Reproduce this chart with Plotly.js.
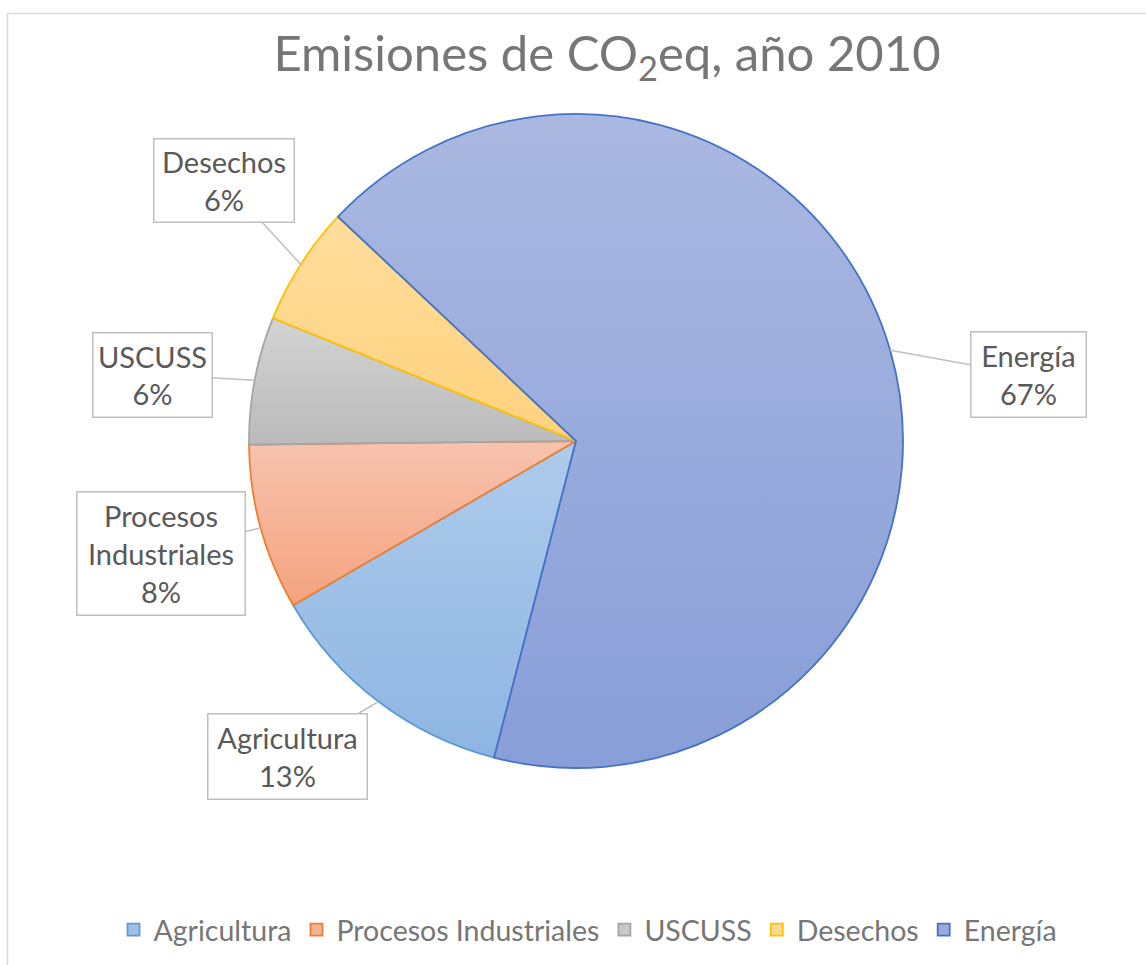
<!DOCTYPE html>
<html>
<head>
<meta charset="utf-8">
<script src="https://cdn.plot.ly/plotly-3.0.1.min.js"></script>
<style>html,body{margin:0;padding:0;background:#fff;}#chart{width:1146px;height:965px;}</style>
</head>
<body>
<div id="chart"></div>
<script>
// ---- data ----
const categories = ["Agricultura", "Procesos Industriales", "USCUSS", "Desechos", "Energía"];
const values = [12.6, 8.2, 6.3, 5.9, 67.0];
const labelText = ["Agricultura", "Procesos<br>Industriales", "USCUSS", "Desechos", "Energía"];

// ---- styles ----
const fillColors = ["#9EC0E6", "#F5B294", "#C8C8C8", "#FFD98F", "#99AADC"];
const lineColors = ["#5B9BD5", "#ED7D31", "#A5A5A5", "#FFC000", "#4472C4"];
const gradTop = ["#AECBEB", "#F7C3AE", "#D3D3D3", "#FFDD9C", "#AAB8E1"];
const gradBot = ["#8EB5E2", "#F4A37F", "#BBBBBB", "#FFD27E", "#889ED8"];

const W = 1146, H = 965;
const cx = 576, cy = 441, R = 327;
const rotation = 194.5;
// label box centers & sizes (px)
const boxes = [
  {x: 287, y: 756, w: 158, h: 84},
  {x: 160.5, y: 553, w: 167, h: 122},
  {x: 152, y: 374.5, w: 118, h: 83},
  {x: 223.5, y: 180, w: 139, h: 82},
  {x: 1028, y: 375, w: 114, h: 84}
];

const total = values.reduce((a, b) => a + b, 0);
let acc = 0;
const annotations = [];
values.forEach((v, i) => {
  const mid = (rotation + (acc + v / 2) / total * 360) * Math.PI / 180;
  acc += v;
  const px = cx + R * Math.sin(mid);
  const py = cy - R * Math.cos(mid);
  const b = boxes[i];
  annotations.push({
    xref: "paper", yref: "paper",
    x: px / W, y: 1 - py / H,
    axref: "pixel", ayref: "pixel",
    ax: b.x - px, ay: b.y - py,
    showarrow: true, arrowhead: 0, arrowwidth: 1.5, arrowcolor: "#BFBFBF",
    standoff: 0, startstandoff: 0,
    text: labelText[i] + "<br>" + Math.round(v / total * 100) + "%",
    font: {family: "Lato, 'Open Sans', sans-serif", size: 29, color: "#595959"},
    bgcolor: "#FFFFFF", bordercolor: "#BFBFBF", borderwidth: 1.5, borderpad: 0,
    width: b.w, height: b.h, align: "center", valign: "middle"
  });
});

const trace = {
  type: "pie",
  labels: categories,
  values: values,
  sort: false,
  direction: "clockwise",
  rotation: rotation,
  textinfo: "none",
  hoverinfo: "skip",
  marker: {colors: fillColors, line: {color: lineColors, width: 1.8}},
  domain: {x: [(cx - R) / W, (cx + R) / W], y: [1 - (cy + R) / H, 1 - (cy - R) / H]}
};

const layout = {
  width: W, height: H,
  margin: {l: 0, r: 0, t: 0, b: 0},
  paper_bgcolor: "#FFFFFF",
  showlegend: true,
  title: {
    text: "Emisiones de CO<sub>2</sub>eq, año 2010",
    font: {family: "Lato, 'Open Sans', sans-serif", size: 49, color: "#767676"},
    x: 607 / W, xanchor: "center", xref: "paper",
    y: 1 - 54 / H, yanchor: "middle", yref: "container"
  },
  legend: {
    orientation: "h", x: 588 / W, xanchor: "center", y: 1 - 930 / H, yanchor: "middle",
    font: {family: "Lato, 'Open Sans', sans-serif", size: 28.5, color: "#767676"},
    itemclick: false, traceorder: "normal"
  },
  annotations: annotations,
  shapes: [{type: "rect", xref: "paper", yref: "paper", x0: 7.5 / W, x1: 1.01, y0: -0.01, y1: 1 - 13.5 / H,
            line: {color: "#D9D9D9", width: 1.5}, fillcolor: "rgba(0,0,0,0)", layer: "below"}]
};

Plotly.newPlot("chart", [trace], layout, {staticPlot: true, displayModeBar: false}).then(gd => {
  const svg = gd.querySelector("svg.main-svg");
  if (!svg) return;
  const NS = "http://www.w3.org/2000/svg";
  let defs = svg.querySelector("defs");
  if (!defs) { defs = document.createElementNS(NS, "defs"); svg.insertBefore(defs, svg.firstChild); }
  gradTop.forEach((c, i) => {
    const g = document.createElementNS(NS, "linearGradient");
    g.setAttribute("id", "sliceGrad" + i);
    g.setAttribute("x1", "0"); g.setAttribute("y1", "0"); g.setAttribute("x2", "0"); g.setAttribute("y2", "1");
    const s1 = document.createElementNS(NS, "stop"); s1.setAttribute("offset", "0"); s1.setAttribute("stop-color", c);
    const s2 = document.createElementNS(NS, "stop"); s2.setAttribute("offset", "1"); s2.setAttribute("stop-color", gradBot[i]);
    g.appendChild(s1); g.appendChild(s2); defs.appendChild(g);
  });
  const slices = gd.querySelectorAll("g.slice path.surface");
  slices.forEach(p => {
    const d = p.__data__;
    const idx = d && d.i !== undefined ? d.i : null;
    if (idx !== null) p.style.fill = "url(#sliceGrad" + idx + ")";
  });
});
</script>
</body>
</html>
